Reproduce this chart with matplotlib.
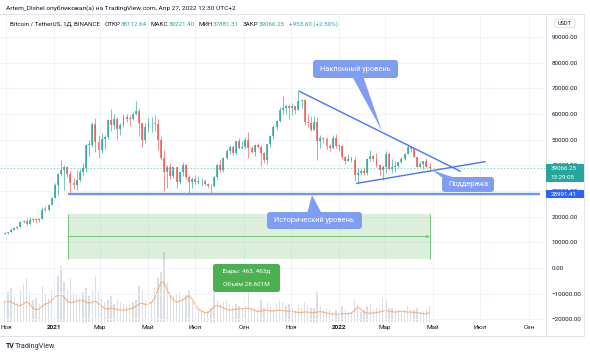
import matplotlib
matplotlib.use('Agg')
import matplotlib.pyplot as plt
import matplotlib.dates as mdates
from matplotlib.patches import FancyBboxPatch, Polygon, Rectangle
from matplotlib.lines import Line2D
from matplotlib.transforms import IdentityTransform
import numpy as np
import pandas as pd

plt.rcParams['font.family'] = ['Roboto', 'DejaVu Sans']

# 4-day candles, BTC/USDT, starting 2020-10-30
start_date = '2020-10-30'
first_open = 13300
close = [
    13550, 14000, 14800, 15700, 15950, 17800, 18400, 17150,
    18800, 19150, 18550, 19250, 22800, 22700, 24700, 27350,
    32200, 36800, 38200, 39200, 36600, 33000, 32500, 34300,
    37600, 38900, 47900, 47900, 55900, 48900, 46100, 50400,
    51200, 57800, 55600, 58000, 54300, 55800, 58800, 58200,
    58000, 59800, 61300, 56300, 50000, 54900, 56400, 56400,
    55900, 49700, 42900, 37500, 39300, 35700, 39200, 33600,
    37300, 40200, 35500, 33700, 34700, 33500, 33800, 33800,
    32700, 31800, 32100, 35400, 40000, 38200, 42800, 45600,
    47100, 44700, 49300, 46900, 47000, 50000, 46900, 45200,
    48100, 47200, 44900, 42200, 48200, 51500, 54900, 57400,
    61500, 62200, 63100, 62200, 63200, 61500, 64900, 65500,
    56900, 56300, 53700, 57000, 49400, 50600, 50100, 47600,
    46700, 50800, 47500, 47700, 43400, 41800, 42600, 42200,
    36300, 36900, 37900, 36900, 42400, 43600, 42500, 40000,
    38300, 39200, 44400, 38400, 39400, 39700, 41300, 42400,
    44500, 47100, 46400, 43200, 39500, 40500, 41500, 39500,
    39066,
]
high = [
    13900, 14100, 15800, 15900, 16400, 18400, 18900, 19400,
    19900, 19600, 19400, 19400, 23800, 24100, 24800, 27500,
    33300, 37000, 41900, 40100, 39600, 37800, 34900, 38000,
    38700, 41000, 48200, 49700, 57000, 58300, 52000, 52600,
    51800, 58100, 61800, 60000, 58800, 56600, 59800, 60000,
    59500, 60700, 64900, 62500, 56500, 56400, 58500, 59000,
    59600, 58000, 51000, 45800, 40000, 40800, 39500, 39300,
    37500, 41300, 40500, 36400, 35300, 36100, 35900, 35000,
    34700, 33200, 32800, 35900, 40500, 42600, 43300, 46400,
    47900, 48100, 49500, 50500, 49600, 51000, 52900, 47400,
    48400, 48800, 48000, 45000, 48500, 51900, 55800, 57800,
    62900, 67000, 64000, 63700, 64300, 63100, 69000, 66000,
    65900, 59800, 59400, 59200, 59000, 51900, 51200, 51000,
    48500, 51900, 52100, 48300, 48000, 43800, 44500, 43500,
    43200, 38900, 38700, 39300, 42700, 45800, 43900, 44700,
    40400, 40000, 45400, 45300, 42600, 41500, 41500, 43300,
    44900, 48200, 47700, 46900, 43400, 41600, 41800, 42900,
    40800,
]
low = [
    13100, 13200, 13900, 14800, 15300, 15900, 17700, 16200,
    16900, 18000, 17600, 17900, 19000, 21800, 22300, 24400,
    27300, 28600, 35700, 30400, 35400, 28800, 30800, 30300,
    33400, 36200, 37300, 43700, 47000, 45000, 43000, 44900,
    46300, 50300, 53300, 54100, 50400, 51700, 55100, 56800,
    55500, 57800, 59500, 51500, 47000, 48800, 52900, 53000,
    53400, 46000, 42000, 30000, 31100, 34700, 35000, 31000,
    32600, 35700, 34800, 28800, 31300, 32700, 32900, 32100,
    32200, 31100, 29300, 31700, 34800, 37600, 37300, 42500,
    44300, 43900, 44200, 46200, 46300, 46500, 42800, 44800,
    43800, 46900, 39600, 40800, 40700, 47200, 50400, 53800,
    56900, 60100, 59800, 58000, 59500, 60000, 61400, 62300,
    55600, 55100, 53300, 53600, 42000, 46800, 48600, 46500,
    45500, 46400, 46800, 45700, 42500, 40600, 41700, 41300,
    34000, 32900, 36200, 36300, 36300, 41800, 41600, 39500,
    36300, 34300, 37000, 38100, 37100, 37600, 39100, 40900,
    42100, 44400, 45100, 43100, 39200, 39200, 38500, 39200,
    37700,
]
# volume, thousands of BTC
volume = [
    110, 150, 170, 120, 100, 160, 190, 220,
    150, 110, 120, 90, 180, 140, 120, 160,
    200, 230, 280, 200, 160, 220, 150, 140,
    120, 150, 170, 130, 160, 230, 150, 120,
    100, 110, 130, 90, 110, 100, 90, 80,
    90, 100, 110, 180, 160, 110, 110, 100,
    170, 220, 250, 350, 200, 150, 130, 140,
    150, 120, 140, 160, 100, 80, 60, 55,
    50, 55, 70, 150, 110, 90, 100, 110,
    90, 80, 90, 80, 70, 80, 150, 70,
    70, 60, 110, 70, 100, 80, 70, 90,
    110, 100, 80, 90, 70, 60, 90, 70,
    100, 80, 70, 70, 150, 80, 60, 70,
    60, 50, 60, 40, 80, 60, 50, 50,
    110, 90, 50, 60, 80, 90, 60, 70,
    70, 120, 110, 70, 70, 60, 60, 50,
    60, 80, 60, 60, 70, 50, 55, 60,
    80,
]
vol_ma = [
    100, 106, 100, 92, 85, 83, 92, 101,
    90, 70, 62, 65, 80, 92, 95, 110,
    125, 135, 138, 125, 105, 97, 100, 105,
    110, 108, 100, 95, 100, 105, 92, 80,
    68, 65, 70, 68, 62, 60, 60, 62,
    65, 70, 80, 90, 95, 88, 90, 100,
    120, 160, 200, 200, 160, 130, 110, 100,
    105, 110, 120, 134, 115, 85, 65, 55,
    48, 46, 60, 78, 83, 78, 70, 65,
    60, 62, 65, 66, 67, 68, 70, 65,
    58, 53, 55, 58, 60, 55, 55, 58,
    60, 58, 55, 55, 54, 50, 48, 48,
    50, 50, 48, 47, 50, 52, 50, 45,
    42, 40, 40, 40, 42, 42, 42, 45,
    60, 75, 65, 50, 45, 45, 45, 48,
    50, 55, 58, 55, 52, 50, 52, 55,
    52, 50, 50, 48, 47, 45, 42, 42,
    50,
]

last_price = 39066.25
hist_level = 28991.41
desc_line = (['2021-11-10', '2022-06-06'], [69000, 37600])
asc_line = (['2022-01-23', '2022-07-08'], [32950, 41470])
hist_line = (['2021-01-19', '2022-09-15'], [hist_level, hist_level])
range_dates = ('2021-01-19', '2022-04-27')
range_prices = (3540, 21060)

tick_dates = ['2020-11-01', '2021-01-01', '2021-03-01', '2021-05-01', '2021-07-01',
              '2021-09-01', '2021-11-01', '2022-01-01', '2022-03-01', '2022-05-01',
              '2022-07-01', '2022-09-01']
tick_names = ['Ноя', '2021', 'Мар', 'Май', 'Июл', 'Сен', 'Ноя', '2022', 'Мар', 'Май',
              'Июл', 'Сен']

header_parts = [('Bitcoin / TetherUS, 1Д, BINANCE', None), ('ОТКР', '38112.64'),
                ('МАКС', '39221.40'), ('МИН', '37881.31'), ('ЗАКР', '39066.25'),
                ('', '+953.60 (+2.50%)')]

W, H = 590, 355
PX = IdentityTransform()
DARK = '#131722'
UP, DOWN = '#26a69a', '#ef5350'
GRID = '#f0f3fa'
CALL = '#7f9ef3'


def py(y):
    return H - y


fig = plt.figure(figsize=(W / 100, H / 100), dpi=100)
renderer = fig.canvas.get_renderer()
rect = [0, 1 - 322 / H, 546 / W, (322 - 14) / H]
ax_v = fig.add_axes(rect)
ax = fig.add_axes(rect, sharex=ax_v)
ax.patch.set_alpha(0)

d2021 = mdates.date2num(pd.Timestamp('2021-01-01'))
ppd = 285 / 365
ax.set_xlim(d2021 - 54 / ppd, d2021 + (546 - 54) / ppd)
ax.set_ylim(-20981, 98910)
ax_v.set_ylim(0, 1550)
ax_v.axis('off')

dates = pd.date_range(start_date, periods=len(close), freq='4D')
x = mdates.date2num(dates)
c = np.array(close, float)
o = np.r_[first_open, c[:-1]]
hi = np.array(high, float)
lo = np.array(low, float)
cols = np.where(c >= o, UP, DOWN)

# volume + MA
ax_v.bar(x, volume, width=1.7, color='#d3d6db', alpha=0.8, linewidth=0)
ax_v.plot(x, vol_ma, color='#ff9a55', lw=0.8, alpha=0.75)

# grid
ax.set_xticks(mdates.date2num(pd.to_datetime(tick_dates)))
ax.set_xticklabels(tick_names)
ax.set_yticks(range(-20000, 100000, 10000))
ax.set_yticklabels([f'{v:.2f}'.replace('-', '\u2212') for v in range(-20000, 100000, 10000)])
ax.yaxis.tick_right()
ax.grid(True, color=GRID, lw=0.7)
ax.set_axisbelow(True)
ax.tick_params(axis='x', length=0, pad=2.2, labelsize=4.6, colors=DARK)
ax.tick_params(axis='y', length=0, pad=4, labelsize=4.5, colors=DARK)
for t in ax.get_xticklabels():
    if t.get_text().isdigit():
        t.set_fontweight('bold')
for s in ['top', 'left', 'bottom']:
    ax.spines[s].set_visible(False)
ax.spines['right'].set_color('#e0e3eb')
ax.spines['right'].set_linewidth(0.8)

# candles
ax.vlines(x, lo, hi, colors=cols, lw=0.6, alpha=0.75, zorder=3)
ax.bar(x, np.maximum(np.abs(c - o), 250), bottom=np.minimum(o, c), width=2.5,
       color=cols, alpha=0.75, linewidth=0, zorder=3)

# last price dashed line
ax.axhline(last_price, color=UP, lw=0.6, ls=(0, (2, 2)), alpha=0.55, zorder=2)

# green range
r0, r1 = mdates.date2num(pd.to_datetime(list(range_dates)))
ax.add_patch(Rectangle((r0, range_prices[0]), r1 - r0, range_prices[1] - range_prices[0],
                       fc='#4caf50', alpha=0.2, ec='none', zorder=2))
ax.vlines([r0, r1], range_prices[0], range_prices[1], color='#81c784', lw=0.8, zorder=2)
mid = sum(range_prices) / 2
ax.annotate('', xy=(r1, mid), xytext=(r0, mid),
            arrowprops=dict(arrowstyle='->', color='#66bb6a', lw=0.6, shrinkA=0, shrinkB=0,
                            mutation_scale=4))

# levels
for dts, vals, lw, col in [(desc_line[0], desc_line[1], 1.0, '#4a76ee'),
                           (asc_line[0], asc_line[1], 1.0, '#4a76ee'),
                           (hist_line[0], hist_line[1], 1.7, '#6f95f4')]:
    ax.plot(mdates.date2num(pd.to_datetime(dts)), vals, color=col, lw=lw,
            solid_capstyle='butt', zorder=4)


def box(x0, y0, x1, y1, color, r=2.5, **kw):
    p = FancyBboxPatch((x0, py(y1)), x1 - x0, y1 - y0,
                       boxstyle=f'round,pad=0,rounding_size={r}', transform=PX,
                       fc=color, ec=kw.get('ec', 'none'), lw=kw.get('lw', 0), zorder=5)
    fig.add_artist(p)


def txt(x0, y0, s, **kw):
    kw.setdefault('va', 'center')
    kw.setdefault('fontsize', 4.4)
    kw.setdefault('color', DARK)
    return fig.text(x0, py(y0), s, transform=PX, zorder=6, **kw)


def callout(x0, y0, x1, y1, s, tri, fs=5.3):
    box(x0, y0, x1, y1, CALL, r=3)
    fig.add_artist(Polygon([(a, py(b)) for a, b in tri], closed=True, transform=PX,
                           fc=CALL, ec='none', zorder=5))
    txt((x0 + x1) / 2, (y0 + y1) / 2 + 0.3, s, ha='center', color='white', fontsize=fs)


callout(313, 60, 398, 78, 'Наклонный уровень', [(352, 76), (363, 76), (382, 131)])
callout(442, 177, 494, 192, 'Поддержка', [(432, 170), (444, 179), (458, 179)])
callout(267, 212, 362, 229, 'Исторический уровень', [(312, 195), (307, 214), (322, 214)])

# bars/volume label
box(213, 264, 280, 292, '#4caf50', r=2.5)
txt(246.5, 271.5, 'Бары: 463, 463д', ha='center', color='white', fontsize=4.6)
txt(246.5, 284.5, 'Объём 28.601M', ha='center', color='white', fontsize=4.6)

# price scale labels
box(546, 164, 584, 182, UP, r=0.5)
txt(551, 168.8, '39066.25', color='white', fontsize=4.5)
txt(551, 177.3, '13:29:05', color='white', fontsize=4.5)
box(546, 190, 584, 198, '#2962ff', r=0.5)
txt(551, 194.2, '28991.41', color='white', fontsize=4.5)
box(555, 19, 575, 27.5, 'white', r=1.5, ec='#d1d4dc', lw=0.5)
txt(565, 23.3, 'USDT', ha='center', fontsize=4.0)

# frame lines
for xs, ys in [((0, 584), (14, 14)), ((0, 584), (336, 336)), ((584, 584), (14, 336)),
               ((546, 546), (322, 336))]:
    fig.add_artist(Line2D(xs, [py(v) for v in ys], transform=PX, color='#e0e3eb', lw=0.7))

# header
txt(6, 8, 'Artem_Dlshel опубликовал(а) на TradingView.com, Апр 27, 2022 12:30 UTC+2',
    fontsize=4.65)
cx = 10
for lab, val in header_parts:
    if lab:
        t = txt(cx, 24, lab, fontsize=4.5)
        cx = t.get_window_extent(renderer).x1 + 0.3
    if val:
        t = txt(cx, 24, val, fontsize=4.5, color=UP)
        cx = t.get_window_extent(renderer).x1
    cx += 4

# footer
txt(6, 346, 'TV', fontsize=5, fontweight='bold')
txt(15, 346.3, 'TradingView', fontsize=5.2, color='#2a2e39')

fig.savefig('out.png', dpi=100)
